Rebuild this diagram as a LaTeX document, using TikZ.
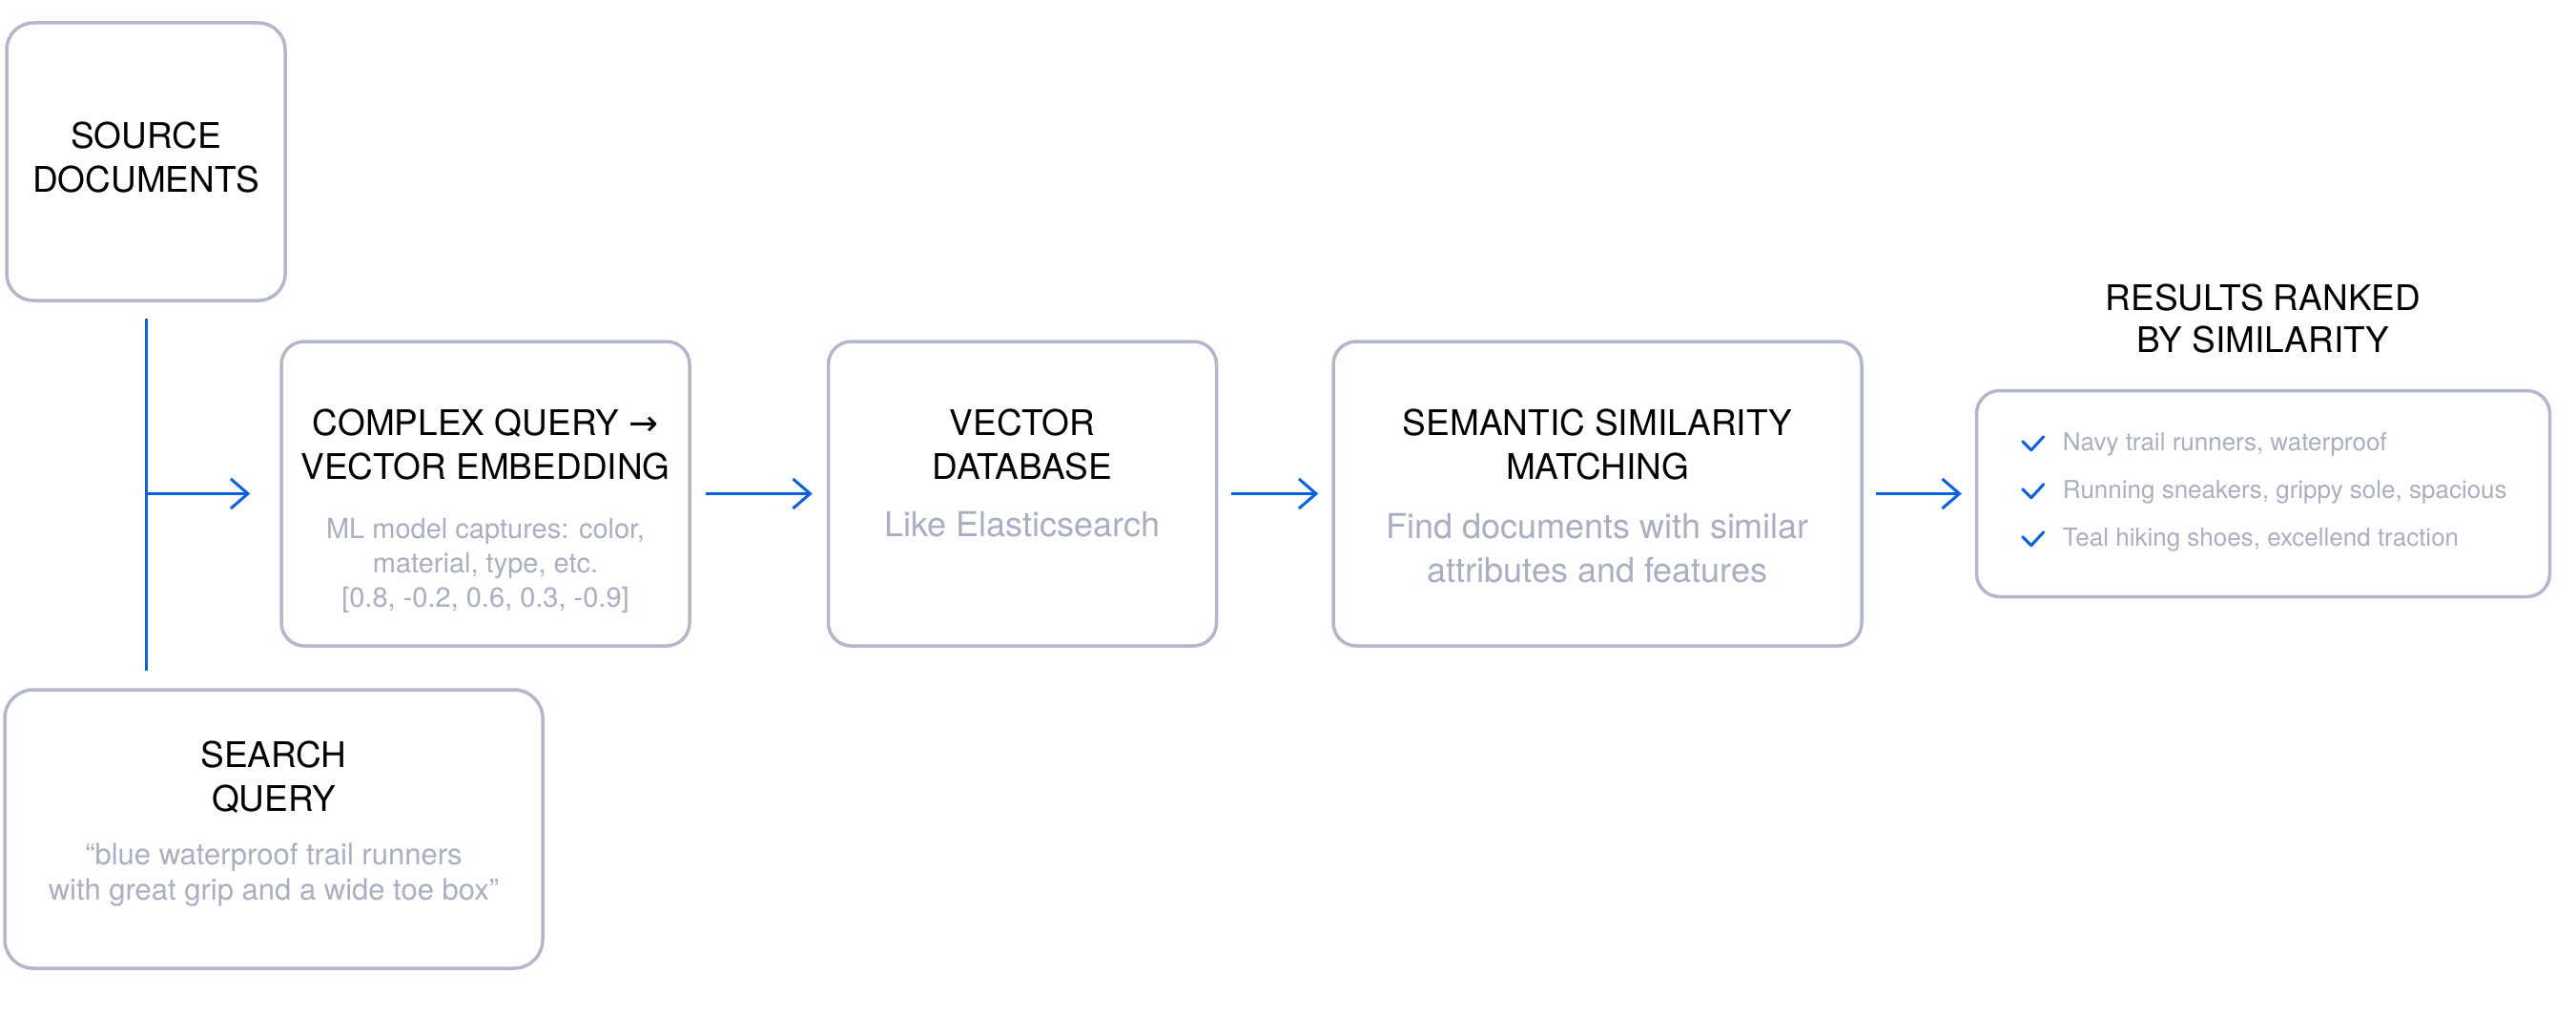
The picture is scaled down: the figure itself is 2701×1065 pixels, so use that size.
\documentclass[tikz,border=0pt]{standalone}
\usepackage{fontspec}
\setmainfont{TeX Gyre Heros}
\newfontfamily\arrowfont{DejaVu Sans}
\usetikzlibrary{arrows.meta, positioning}
\definecolor{flowblue}{RGB}{12,98,220}
\definecolor{edgegray}{RGB}{178,183,201}
\definecolor{textgray}{RGB}{169,174,193}

\begin{document}
\begin{tikzpicture}[
        x=1pt, y=1pt,
        box/.style={rectangle, draw=edgegray, line width=3.5pt, rounded corners=24pt, inner sep=0pt},
        ttl/.style={font=\fontsize{37}{45.5}\selectfont, align=center, inner sep=0pt, anchor=base},
        desc/.style={text=textgray, align=center, inner sep=0pt, anchor=base},
        item/.style={text=textgray, font=\fontsize{26}{30}\selectfont, inner sep=0pt, anchor=base west},
        flow/.style={draw=flowblue, line width=3pt, -{Straight Barb[length=18pt, width=31pt]}},
        link/.style={draw=flowblue, line width=3pt},
        chk/.style={draw=flowblue, line width=3pt, line cap=round, line join=round}
    ]
    \useasboundingbox (0,0) rectangle (2701,-1065);

    % boxes
    \node[box, rounded corners=28pt, minimum width=292pt, minimum height=291pt] (src) at (153,-169.5) {};
    \node[box, minimum width=428pt, minimum height=319pt] (cq) at (509,-517.5) {};
    \node[box, minimum width=407pt, minimum height=319pt, right=142pt of cq] (vdb) {};
    \node[box, minimum width=554pt, minimum height=319pt, right=119pt of vdb] (sem) {};
    \node[box, minimum width=601pt, minimum height=216pt, right=117pt of sem] (res) {};
    \node[box, rounded corners=30pt, minimum width=564pt, minimum height=292pt] (sq) at (287,-869) {};

    % titles and notes (anchored on their last line)
    \node[ttl] (srcT) at ([yshift=-179pt]src.north) {SOURCE\\DOCUMENTS};
    \node[ttl] (cqT) at ([yshift=-146pt]cq.north) {COMPLEX QUERY {\arrowfont →}\\VECTOR EMBEDDING};
    \node[desc, font=\fontsize{29}{36}\selectfont] (cqD) at ([yshift=-280pt]cq.north) {ML model captures: color,\\material, type, etc.\\{[0.8, -0.2, 0.6, 0.3, -0.9]}};
    \node[ttl] (vdbT) at ([yshift=-146pt]vdb.north) {VECTOR\\DATABASE};
    \node[desc, font=\fontsize{36}{46}\selectfont] (vdbD) at ([yshift=-206pt]vdb.north) {Like Elasticsearch};
    \node[ttl] (semT) at ([yshift=-146pt]sem.north) {SEMANTIC SIMILARITY\\MATCHING};
    \node[desc, font=\fontsize{36}{46}\selectfont] (semD) at ([yshift=-254pt]sem.north) {Find documents with similar\\attributes and features};
    \node[ttl] (sqT) at ([yshift=-129pt]sq.north) {SEARCH\\QUERY};
    \node[desc, font=\fontsize{31}{37}\selectfont] (sqD) at ([yshift=-222pt]sq.north) {“blue waterproof trail runners\\with great grip and a wide toe box”};
    \node[ttl, font=\fontsize{37}{44}\selectfont] (resT) at ([yshift=38pt]res.north) {RESULTS RANKED\\BY SIMILARITY};

    % ranked results
    \node[item] (r1) at ([xshift=92pt, yshift=-65pt]res.north west) {Navy trail runners, waterproof};
    \node[item] (r2) at ([yshift=-50pt]r1.base west) {Running sneakers, grippy sole, spacious};
    \node[item] (r3) at ([yshift=-50pt]r2.base west) {Teal hiking shoes, excellend traction};
    \draw[chk] ([xshift=-42pt, yshift=10pt]r1.base west) -- ++(9,-9) -- ++(13,14);
    \draw[chk] ([xshift=-42pt, yshift=10pt]r2.base west) -- ++(9,-9) -- ++(13,14);
    \draw[chk] ([xshift=-42pt, yshift=10pt]r3.base west) -- ++(9,-9) -- ++(13,14);

    % connectors
    \coordinate (jn) at (src.south |- cq.west);
    \draw[link, shorten <=17pt, shorten >=18pt] (src.south) -- (src.south |- sq.north);
    \draw[flow, shorten >=31pt] (jn) -- (cq.west);
    \draw[flow, shorten <=15pt, shorten >=15pt] (cq) -- (vdb);
    \draw[flow, shorten <=14pt, shorten >=14pt] (vdb) -- (sem);
    \draw[flow, shorten <=13pt, shorten >=14pt] (sem.east) -- (sem.east -| res.west);
\end{tikzpicture}
\end{document}
